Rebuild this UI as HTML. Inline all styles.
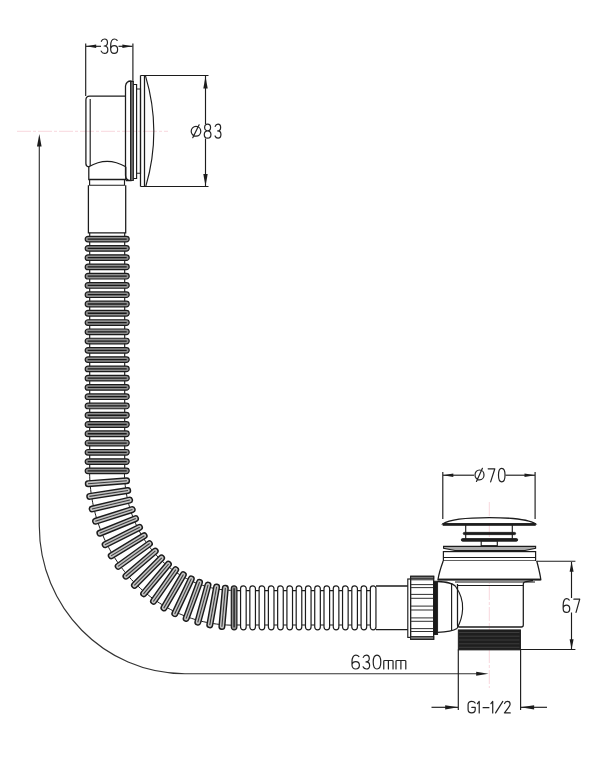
<!DOCTYPE html>
<html><head><meta charset="utf-8"><style>
html,body{margin:0;padding:0;background:#fff;width:602px;height:768px;overflow:hidden;font-family:"Liberation Sans",sans-serif;}
svg{display:block;}
</style></head><body>
<svg width="602" height="768" viewBox="0 0 602 768">
<rect width="602" height="768" fill="#fff"/>
<line x1="17.00" y1="131.30" x2="168.00" y2="131.30" stroke="#f7d3db" stroke-width="0.92" stroke-dasharray="14,2,3,2"/>
<line x1="489.30" y1="502.00" x2="489.30" y2="688.00" stroke="#f7d3db" stroke-width="0.92" stroke-dasharray="14,2,3,2"/>
<line x1="85.70" y1="43.50" x2="85.70" y2="96.00" stroke="#1c1c1c" stroke-width="1.15" />
<line x1="132.90" y1="43.50" x2="132.90" y2="82.00" stroke="#1c1c1c" stroke-width="1.15" />
<line x1="86.00" y1="46.30" x2="101.00" y2="46.30" stroke="#1c1c1c" stroke-width="1.15" />
<line x1="118.50" y1="46.30" x2="132.50" y2="46.30" stroke="#1c1c1c" stroke-width="1.15" />
<path d="M86.20,46.30 L96.20,44.50 L96.20,48.10 Z" fill="#1c1c1c" stroke="none"/>
<path d="M132.40,46.30 L122.40,48.10 L122.40,44.50 Z" fill="#1c1c1c" stroke="none"/>
<path transform="translate(101.00,39.00) scale(0.8750,1.0286)" d="M0.4,2.2 C1,0.7 2.3,0 4,0 C6.1,0 7.4,1.4 7.4,3.4 C7.4,5.5 6,6.8 3.6,6.8 C6.3,6.8 7.8,8.2 7.8,10.4 C7.8,12.7 6.2,14 4,14 C2.2,14 0.9,13.2 0.2,11.8" fill="none" stroke="#222" stroke-width="1.2" vector-effect="non-scaling-stroke" stroke-linecap="round" stroke-linejoin="round"/>
<path transform="translate(110.40,39.00) scale(0.9375,1.0286)" d="M7.2,1.4 C6.5,0.5 5.4,0 4.2,0 C1.8,0 0.3,2.3 0.3,6.5 V10 C0.3,12.5 1.8,14 4,14 C6.2,14 7.7,12.5 7.7,10.2 C7.7,7.9 6.2,6.5 4.1,6.5 C2.3,6.5 0.8,7.5 0.3,9.2" fill="none" stroke="#222" stroke-width="1.2" vector-effect="non-scaling-stroke" stroke-linecap="round" stroke-linejoin="round"/>
<line x1="140.50" y1="75.50" x2="208.50" y2="75.50" stroke="#1c1c1c" stroke-width="1.15" />
<line x1="140.50" y1="186.50" x2="208.50" y2="186.50" stroke="#1c1c1c" stroke-width="1.15" />
<line x1="205.50" y1="76.00" x2="205.50" y2="124.00" stroke="#1c1c1c" stroke-width="1.15" />
<line x1="205.50" y1="138.50" x2="205.50" y2="186.00" stroke="#1c1c1c" stroke-width="1.15" />
<path d="M205.50,76.30 L207.70,88.50 L203.30,88.50 Z" fill="#1c1c1c" stroke="none"/>
<path d="M205.50,186.20 L203.30,174.00 L207.70,174.00 Z" fill="#1c1c1c" stroke="none"/>
<path transform="translate(191.20,124.80) scale(1.2000,0.9571)" d="M4,1.75 C6.3,1.75 8,3.9 8,6.8 C8,9.7 6.3,11.85 4,11.85 C1.7,11.85 0,9.7 0,6.8 C0,3.9 1.7,1.75 4,1.75 Z M1.3,13.5 L6.6,0" fill="none" stroke="#222" stroke-width="1.2" vector-effect="non-scaling-stroke" stroke-linecap="round" stroke-linejoin="round"/>
<path transform="translate(204.10,124.10) scale(0.8750,1.0071)" d="M4,6.7 C1.9,6.7 0.6,5.4 0.6,3.4 C0.6,1.3 2,0 4,0 C6,0 7.4,1.3 7.4,3.4 C7.4,5.4 6.1,6.7 4,6.7 C1.6,6.7 0.2,8.1 0.2,10.3 C0.2,12.6 1.8,14 4,14 C6.2,14 7.8,12.6 7.8,10.3 C7.8,8.1 6.4,6.7 4,6.7 Z" fill="none" stroke="#222" stroke-width="1.2" vector-effect="non-scaling-stroke" stroke-linecap="round" stroke-linejoin="round"/>
<path transform="translate(214.90,124.10) scale(0.7750,1.0071)" d="M0.4,2.2 C1,0.7 2.3,0 4,0 C6.1,0 7.4,1.4 7.4,3.4 C7.4,5.5 6,6.8 3.6,6.8 C6.3,6.8 7.8,8.2 7.8,10.4 C7.8,12.7 6.2,14 4,14 C2.2,14 0.9,13.2 0.2,11.8" fill="none" stroke="#222" stroke-width="1.2" vector-effect="non-scaling-stroke" stroke-linecap="round" stroke-linejoin="round"/>
<path d="M125.8,96.1 H89.6 Q85.9,96.1 85.9,100 V163.5 Q85.9,166.6 88.8,166.8 Q107,155.8 125.8,166.8" stroke="#1c1c1c" stroke-width="1.265" fill="none" />
<line x1="90.20" y1="99.00" x2="90.20" y2="166.00" stroke="#1c1c1c" stroke-width="1.15" />
<path d="M88.8,166.8 V179.5 H125.8 V166.8" stroke="#1c1c1c" stroke-width="1.265" fill="none" />
<path d="M89.6,179.5 V185.2 H124.5 V179.5" stroke="#1c1c1c" stroke-width="1.15" fill="none" />
<path d="M88.4,185.2 V232.8 H125.7 V185.2" stroke="#1c1c1c" stroke-width="1.265" fill="none" />
<path d="M125.8,180.5 H131 V81 Q126.3,81 125.5,86 V175.5 Q125.8,180.5 131,180.5" stroke="#1c1c1c" stroke-width="1.265" fill="none" />
<rect x="130.60" y="81.50" width="2.80" height="99.00" rx="0" fill="#6a6a6a" stroke="#1c1c1c" stroke-width="0.92" />
<path d="M133.4,84.5 H136.6 V178.5 H133.4" stroke="#1c1c1c" stroke-width="1.15" fill="none" />
<path d="M136.6,89 H140.5 V173.2 H136.6" stroke="#1c1c1c" stroke-width="1.15" fill="none" />
<path d="M140.5,75.5 V186.5 M144.5,75.5 V186.5" stroke="#1c1c1c" stroke-width="1.265" fill="none" />
<path d="M145.5,75.8 Q162,131 145.8,186.3" stroke="#1c1c1c" stroke-width="1.15" fill="none" />
<line x1="89.70" y1="232.80" x2="89.70" y2="471.00" stroke="#1c1c1c" stroke-width="1.15" />
<line x1="124.70" y1="232.80" x2="124.70" y2="471.00" stroke="#1c1c1c" stroke-width="1.15" />
<polyline points="89.60,470.90 89.62,473.57 89.69,476.24 89.79,478.91 89.95,481.58 90.14,484.24 90.38,486.90 90.66,489.55 90.98,492.20 91.35,494.85 91.76,497.48 92.21,500.11 92.71,502.73 93.24,505.34 93.82,507.94 94.45,510.53 95.11,513.11 95.81,515.68 96.56,518.23 97.35,520.77 98.18,523.29 99.05,525.80 99.96,528.29 100.92,530.77 101.91,533.23 102.94,535.67 104.01,538.09 105.12,540.49 106.27,542.87 107.46,545.23 108.69,547.57 109.96,549.89 111.26,552.18 112.60,554.45 113.98,556.69 115.40,558.91 116.85,561.10 118.34,563.26 119.86,565.40 121.42,567.51 123.01,569.59 124.64,571.64 126.30,573.66 127.99,575.65 129.72,577.61 131.48,579.54 133.27,581.44 135.09,583.30 136.94,585.13 138.82,586.92 140.73,588.68 142.68,590.40 144.65,592.09 146.64,593.74 148.67,595.36 150.72,596.93 152.80,598.47 154.90,599.97 157.03,601.43 159.18,602.85 161.36,604.23 163.56,605.58 165.78,606.87 168.03,608.13 170.29,609.35 172.58,610.52 174.88,611.65 177.20,612.74 179.54,613.79 181.90,614.79 184.28,615.74 186.67,616.66 189.08,617.52 191.50,618.35 193.93,619.12 196.38,619.85 198.84,620.54 201.31,621.18 203.79,621.77 206.28,622.32 208.78,622.81 211.29,623.27 213.81,623.67 216.33,624.03 218.86,624.34 221.39,624.60 223.93,624.82 226.47,624.98 229.01,625.10 231.55,625.18 234.10,625.20" fill="none" stroke="#1c1c1c" stroke-width="1.0"/>
<polyline points="124.40,470.90 124.42,473.01 124.47,475.11 124.55,477.22 124.67,479.32 124.83,481.42 125.01,483.52 125.24,485.61 125.49,487.70 125.78,489.78 126.10,491.86 126.46,493.93 126.85,495.99 127.27,498.05 127.73,500.10 128.22,502.13 128.74,504.16 129.29,506.17 129.88,508.18 130.50,510.17 131.15,512.15 131.83,514.12 132.55,516.07 133.29,518.01 134.07,519.94 134.88,521.84 135.71,523.74 136.58,525.61 137.48,527.47 138.41,529.31 139.36,531.13 140.35,532.93 141.36,534.71 142.41,536.48 143.48,538.22 144.57,539.94 145.70,541.64 146.85,543.31 148.03,544.97 149.23,546.60 150.46,548.20 151.72,549.79 153.00,551.34 154.30,552.88 155.63,554.38 156.98,555.86 158.35,557.32 159.75,558.75 161.17,560.15 162.61,561.52 164.07,562.86 165.55,564.18 167.05,565.47 168.57,566.72 170.12,567.95 171.68,569.15 173.25,570.32 174.85,571.46 176.46,572.56 178.09,573.64 179.74,574.68 181.40,575.70 183.08,576.68 184.77,577.62 186.48,578.54 188.19,579.42 189.93,580.28 191.67,581.09 193.43,581.88 195.20,582.63 196.98,583.34 198.77,584.03 200.57,584.68 202.38,585.29 204.20,585.87 206.03,586.42 207.86,586.93 209.71,587.41 211.56,587.85 213.41,588.25 215.28,588.63 217.14,588.96 219.02,589.26 220.89,589.53 222.77,589.76 224.65,589.96 226.54,590.12 228.43,590.24 230.32,590.33 232.21,590.38 234.10,590.40" fill="none" stroke="#1c1c1c" stroke-width="1.0"/>
<line x1="234.00" y1="590.60" x2="375.00" y2="590.60" stroke="#1c1c1c" stroke-width="1.15" />
<line x1="234.00" y1="625.00" x2="375.00" y2="625.00" stroke="#1c1c1c" stroke-width="1.15" />
<g transform="translate(107.20,239.10) rotate(0.000)"><rect x="-22.00" y="-2.80" width="44.00" height="5.60" rx="2.80" fill="#8e8e8e" stroke="#1c1c1c" stroke-width="1.2"/><line x1="-19.50" y1="0" x2="19.50" y2="0" stroke="#1a1a1a" stroke-width="1.3"/></g>
<g transform="translate(107.20,248.37) rotate(0.000)"><rect x="-22.00" y="-2.80" width="44.00" height="5.60" rx="2.80" fill="#8e8e8e" stroke="#1c1c1c" stroke-width="1.2"/><line x1="-19.50" y1="0" x2="19.50" y2="0" stroke="#1a1a1a" stroke-width="1.3"/></g>
<g transform="translate(107.20,257.64) rotate(0.000)"><rect x="-22.00" y="-2.80" width="44.00" height="5.60" rx="2.80" fill="#8e8e8e" stroke="#1c1c1c" stroke-width="1.2"/><line x1="-19.50" y1="0" x2="19.50" y2="0" stroke="#1a1a1a" stroke-width="1.3"/></g>
<g transform="translate(107.20,266.91) rotate(0.000)"><rect x="-22.00" y="-2.80" width="44.00" height="5.60" rx="2.80" fill="#8e8e8e" stroke="#1c1c1c" stroke-width="1.2"/><line x1="-19.50" y1="0" x2="19.50" y2="0" stroke="#1a1a1a" stroke-width="1.3"/></g>
<g transform="translate(107.20,276.18) rotate(0.000)"><rect x="-22.00" y="-2.80" width="44.00" height="5.60" rx="2.80" fill="#8e8e8e" stroke="#1c1c1c" stroke-width="1.2"/><line x1="-19.50" y1="0" x2="19.50" y2="0" stroke="#1a1a1a" stroke-width="1.3"/></g>
<g transform="translate(107.20,285.45) rotate(0.000)"><rect x="-22.00" y="-2.80" width="44.00" height="5.60" rx="2.80" fill="#8e8e8e" stroke="#1c1c1c" stroke-width="1.2"/><line x1="-19.50" y1="0" x2="19.50" y2="0" stroke="#1a1a1a" stroke-width="1.3"/></g>
<g transform="translate(107.20,294.72) rotate(0.000)"><rect x="-22.00" y="-2.80" width="44.00" height="5.60" rx="2.80" fill="#8e8e8e" stroke="#1c1c1c" stroke-width="1.2"/><line x1="-19.50" y1="0" x2="19.50" y2="0" stroke="#1a1a1a" stroke-width="1.3"/></g>
<g transform="translate(107.20,303.99) rotate(0.000)"><rect x="-22.00" y="-2.80" width="44.00" height="5.60" rx="2.80" fill="#8e8e8e" stroke="#1c1c1c" stroke-width="1.2"/><line x1="-19.50" y1="0" x2="19.50" y2="0" stroke="#1a1a1a" stroke-width="1.3"/></g>
<g transform="translate(107.20,313.26) rotate(0.000)"><rect x="-22.00" y="-2.80" width="44.00" height="5.60" rx="2.80" fill="#8e8e8e" stroke="#1c1c1c" stroke-width="1.2"/><line x1="-19.50" y1="0" x2="19.50" y2="0" stroke="#1a1a1a" stroke-width="1.3"/></g>
<g transform="translate(107.20,322.53) rotate(0.000)"><rect x="-22.00" y="-2.80" width="44.00" height="5.60" rx="2.80" fill="#8e8e8e" stroke="#1c1c1c" stroke-width="1.2"/><line x1="-19.50" y1="0" x2="19.50" y2="0" stroke="#1a1a1a" stroke-width="1.3"/></g>
<g transform="translate(107.20,331.80) rotate(0.000)"><rect x="-22.00" y="-2.80" width="44.00" height="5.60" rx="2.80" fill="#8e8e8e" stroke="#1c1c1c" stroke-width="1.2"/><line x1="-19.50" y1="0" x2="19.50" y2="0" stroke="#1a1a1a" stroke-width="1.3"/></g>
<g transform="translate(107.20,341.07) rotate(0.000)"><rect x="-22.00" y="-2.80" width="44.00" height="5.60" rx="2.80" fill="#8e8e8e" stroke="#1c1c1c" stroke-width="1.2"/><line x1="-19.50" y1="0" x2="19.50" y2="0" stroke="#1a1a1a" stroke-width="1.3"/></g>
<g transform="translate(107.20,350.34) rotate(0.000)"><rect x="-22.00" y="-2.80" width="44.00" height="5.60" rx="2.80" fill="#8e8e8e" stroke="#1c1c1c" stroke-width="1.2"/><line x1="-19.50" y1="0" x2="19.50" y2="0" stroke="#1a1a1a" stroke-width="1.3"/></g>
<g transform="translate(107.20,359.61) rotate(0.000)"><rect x="-22.00" y="-2.80" width="44.00" height="5.60" rx="2.80" fill="#8e8e8e" stroke="#1c1c1c" stroke-width="1.2"/><line x1="-19.50" y1="0" x2="19.50" y2="0" stroke="#1a1a1a" stroke-width="1.3"/></g>
<g transform="translate(107.20,368.88) rotate(0.000)"><rect x="-22.00" y="-2.80" width="44.00" height="5.60" rx="2.80" fill="#8e8e8e" stroke="#1c1c1c" stroke-width="1.2"/><line x1="-19.50" y1="0" x2="19.50" y2="0" stroke="#1a1a1a" stroke-width="1.3"/></g>
<g transform="translate(107.20,378.15) rotate(0.000)"><rect x="-22.00" y="-2.80" width="44.00" height="5.60" rx="2.80" fill="#8e8e8e" stroke="#1c1c1c" stroke-width="1.2"/><line x1="-19.50" y1="0" x2="19.50" y2="0" stroke="#1a1a1a" stroke-width="1.3"/></g>
<g transform="translate(107.20,387.42) rotate(0.000)"><rect x="-22.00" y="-2.80" width="44.00" height="5.60" rx="2.80" fill="#8e8e8e" stroke="#1c1c1c" stroke-width="1.2"/><line x1="-19.50" y1="0" x2="19.50" y2="0" stroke="#1a1a1a" stroke-width="1.3"/></g>
<g transform="translate(107.20,396.69) rotate(0.000)"><rect x="-22.00" y="-2.80" width="44.00" height="5.60" rx="2.80" fill="#8e8e8e" stroke="#1c1c1c" stroke-width="1.2"/><line x1="-19.50" y1="0" x2="19.50" y2="0" stroke="#1a1a1a" stroke-width="1.3"/></g>
<g transform="translate(107.20,405.96) rotate(0.000)"><rect x="-22.00" y="-2.80" width="44.00" height="5.60" rx="2.80" fill="#8e8e8e" stroke="#1c1c1c" stroke-width="1.2"/><line x1="-19.50" y1="0" x2="19.50" y2="0" stroke="#1a1a1a" stroke-width="1.3"/></g>
<g transform="translate(107.20,415.23) rotate(0.000)"><rect x="-22.00" y="-2.80" width="44.00" height="5.60" rx="2.80" fill="#8e8e8e" stroke="#1c1c1c" stroke-width="1.2"/><line x1="-19.50" y1="0" x2="19.50" y2="0" stroke="#1a1a1a" stroke-width="1.3"/></g>
<g transform="translate(107.20,424.50) rotate(0.000)"><rect x="-22.00" y="-2.80" width="44.00" height="5.60" rx="2.80" fill="#8e8e8e" stroke="#1c1c1c" stroke-width="1.2"/><line x1="-19.50" y1="0" x2="19.50" y2="0" stroke="#1a1a1a" stroke-width="1.3"/></g>
<g transform="translate(107.20,433.77) rotate(0.000)"><rect x="-22.00" y="-2.80" width="44.00" height="5.60" rx="2.80" fill="#8e8e8e" stroke="#1c1c1c" stroke-width="1.2"/><line x1="-19.50" y1="0" x2="19.50" y2="0" stroke="#1a1a1a" stroke-width="1.3"/></g>
<g transform="translate(107.20,443.04) rotate(0.000)"><rect x="-22.00" y="-2.80" width="44.00" height="5.60" rx="2.80" fill="#8e8e8e" stroke="#1c1c1c" stroke-width="1.2"/><line x1="-19.50" y1="0" x2="19.50" y2="0" stroke="#1a1a1a" stroke-width="1.3"/></g>
<g transform="translate(107.20,452.31) rotate(0.000)"><rect x="-22.00" y="-2.80" width="44.00" height="5.60" rx="2.80" fill="#8e8e8e" stroke="#1c1c1c" stroke-width="1.2"/><line x1="-19.50" y1="0" x2="19.50" y2="0" stroke="#1a1a1a" stroke-width="1.3"/></g>
<g transform="translate(107.20,461.58) rotate(0.000)"><rect x="-22.00" y="-2.80" width="44.00" height="5.60" rx="2.80" fill="#8e8e8e" stroke="#1c1c1c" stroke-width="1.2"/><line x1="-19.50" y1="0" x2="19.50" y2="0" stroke="#1a1a1a" stroke-width="1.3"/></g>
<g transform="translate(107.20,470.85) rotate(0.000)"><rect x="-22.00" y="-2.80" width="44.00" height="5.60" rx="2.80" fill="#8e8e8e" stroke="#1c1c1c" stroke-width="1.2"/><line x1="-19.50" y1="0" x2="19.50" y2="0" stroke="#1a1a1a" stroke-width="1.3"/></g>
<g transform="translate(107.43,482.21) rotate(-4.399)"><rect x="-22.00" y="-2.80" width="44.00" height="5.60" rx="2.80" fill="#c4c4c4" stroke="#1c1c1c" stroke-width="1.45"/><line x1="-19.50" y1="0" x2="19.50" y2="0" stroke="#3a3a3a" stroke-width="1.1"/></g>
<g transform="translate(108.73,493.43) rotate(-8.807)"><rect x="-22.00" y="-2.80" width="44.00" height="5.60" rx="2.80" fill="#c4c4c4" stroke="#1c1c1c" stroke-width="1.45"/><line x1="-19.50" y1="0" x2="19.50" y2="0" stroke="#3a3a3a" stroke-width="1.1"/></g>
<g transform="translate(110.89,504.51) rotate(-13.230)"><rect x="-22.00" y="-2.80" width="44.00" height="5.60" rx="2.80" fill="#c4c4c4" stroke="#1c1c1c" stroke-width="1.45"/><line x1="-19.50" y1="0" x2="19.50" y2="0" stroke="#3a3a3a" stroke-width="1.1"/></g>
<g transform="translate(113.89,515.35) rotate(-17.678)"><rect x="-22.00" y="-2.80" width="44.00" height="5.60" rx="2.80" fill="#c4c4c4" stroke="#1c1c1c" stroke-width="1.45"/><line x1="-19.50" y1="0" x2="19.50" y2="0" stroke="#3a3a3a" stroke-width="1.1"/></g>
<g transform="translate(117.71,525.89) rotate(-22.158)"><rect x="-22.00" y="-2.80" width="44.00" height="5.60" rx="2.80" fill="#c4c4c4" stroke="#1c1c1c" stroke-width="1.45"/><line x1="-19.50" y1="0" x2="19.50" y2="0" stroke="#3a3a3a" stroke-width="1.1"/></g>
<g transform="translate(122.32,536.06) rotate(-26.676)"><rect x="-22.00" y="-2.80" width="44.00" height="5.60" rx="2.80" fill="#c4c4c4" stroke="#1c1c1c" stroke-width="1.45"/><line x1="-19.50" y1="0" x2="19.50" y2="0" stroke="#3a3a3a" stroke-width="1.1"/></g>
<g transform="translate(127.70,545.78) rotate(-31.239)"><rect x="-22.00" y="-2.80" width="44.00" height="5.60" rx="2.80" fill="#c4c4c4" stroke="#1c1c1c" stroke-width="1.45"/><line x1="-19.50" y1="0" x2="19.50" y2="0" stroke="#3a3a3a" stroke-width="1.1"/></g>
<g transform="translate(133.80,554.99) rotate(-35.852)"><rect x="-22.00" y="-2.80" width="44.00" height="5.60" rx="2.80" fill="#c4c4c4" stroke="#1c1c1c" stroke-width="1.45"/><line x1="-19.50" y1="0" x2="19.50" y2="0" stroke="#3a3a3a" stroke-width="1.1"/></g>
<g transform="translate(140.59,563.62) rotate(-40.519)"><rect x="-22.00" y="-2.80" width="44.00" height="5.60" rx="2.80" fill="#c4c4c4" stroke="#1c1c1c" stroke-width="1.45"/><line x1="-19.50" y1="0" x2="19.50" y2="0" stroke="#3a3a3a" stroke-width="1.1"/></g>
<g transform="translate(148.02,571.62) rotate(-45.243)"><rect x="-22.00" y="-2.80" width="44.00" height="5.60" rx="2.80" fill="#c4c4c4" stroke="#1c1c1c" stroke-width="1.45"/><line x1="-19.50" y1="0" x2="19.50" y2="0" stroke="#3a3a3a" stroke-width="1.1"/></g>
<g transform="translate(156.03,578.93) rotate(-50.025)"><rect x="-22.00" y="-2.80" width="44.00" height="5.60" rx="2.80" fill="#c4c4c4" stroke="#1c1c1c" stroke-width="1.45"/><line x1="-19.50" y1="0" x2="19.50" y2="0" stroke="#3a3a3a" stroke-width="1.1"/></g>
<g transform="translate(164.58,585.51) rotate(-54.866)"><rect x="-22.00" y="-2.80" width="44.00" height="5.60" rx="2.80" fill="#c4c4c4" stroke="#1c1c1c" stroke-width="1.45"/><line x1="-19.50" y1="0" x2="19.50" y2="0" stroke="#3a3a3a" stroke-width="1.1"/></g>
<g transform="translate(173.61,591.30) rotate(-59.762)"><rect x="-22.00" y="-2.80" width="44.00" height="5.60" rx="2.80" fill="#c4c4c4" stroke="#1c1c1c" stroke-width="1.45"/><line x1="-19.50" y1="0" x2="19.50" y2="0" stroke="#3a3a3a" stroke-width="1.1"/></g>
<g transform="translate(183.04,596.27) rotate(-64.711)"><rect x="-22.00" y="-2.80" width="44.00" height="5.60" rx="2.80" fill="#c4c4c4" stroke="#1c1c1c" stroke-width="1.45"/><line x1="-19.50" y1="0" x2="19.50" y2="0" stroke="#3a3a3a" stroke-width="1.1"/></g>
<g transform="translate(192.83,600.38) rotate(-69.707)"><rect x="-22.00" y="-2.80" width="44.00" height="5.60" rx="2.80" fill="#c4c4c4" stroke="#1c1c1c" stroke-width="1.45"/><line x1="-19.50" y1="0" x2="19.50" y2="0" stroke="#3a3a3a" stroke-width="1.1"/></g>
<g transform="translate(202.90,603.61) rotate(-74.743)"><rect x="-22.00" y="-2.80" width="44.00" height="5.60" rx="2.80" fill="#c4c4c4" stroke="#1c1c1c" stroke-width="1.45"/><line x1="-19.50" y1="0" x2="19.50" y2="0" stroke="#3a3a3a" stroke-width="1.1"/></g>
<g transform="translate(213.18,605.93) rotate(-79.811)"><rect x="-22.00" y="-2.80" width="44.00" height="5.60" rx="2.80" fill="#c4c4c4" stroke="#1c1c1c" stroke-width="1.45"/><line x1="-19.50" y1="0" x2="19.50" y2="0" stroke="#3a3a3a" stroke-width="1.1"/></g>
<g transform="translate(223.60,607.33) rotate(-84.900)"><rect x="-22.00" y="-2.80" width="44.00" height="5.60" rx="2.80" fill="#c4c4c4" stroke="#1c1c1c" stroke-width="1.45"/><line x1="-19.50" y1="0" x2="19.50" y2="0" stroke="#3a3a3a" stroke-width="1.1"/></g>
<g transform="translate(234.10,607.80) rotate(90.000)"><rect x="-22.00" y="-2.80" width="44.00" height="5.60" rx="2.80" fill="#8e8e8e" stroke="#1c1c1c" stroke-width="1.2"/><line x1="-19.50" y1="0" x2="19.50" y2="0" stroke="#1a1a1a" stroke-width="1.3"/></g>
<g transform="translate(243.37,607.80) rotate(90.000)"><rect x="-22.00" y="-2.80" width="44.00" height="5.60" rx="2.80" fill="#ffffff" stroke="#1c1c1c" stroke-width="1.2"/></g>
<g transform="translate(252.64,607.80) rotate(90.000)"><rect x="-22.00" y="-2.80" width="44.00" height="5.60" rx="2.80" fill="#ffffff" stroke="#1c1c1c" stroke-width="1.2"/></g>
<g transform="translate(261.91,607.80) rotate(90.000)"><rect x="-22.00" y="-2.80" width="44.00" height="5.60" rx="2.80" fill="#ffffff" stroke="#1c1c1c" stroke-width="1.2"/></g>
<g transform="translate(271.18,607.80) rotate(90.000)"><rect x="-22.00" y="-2.80" width="44.00" height="5.60" rx="2.80" fill="#ffffff" stroke="#1c1c1c" stroke-width="1.2"/></g>
<g transform="translate(280.45,607.80) rotate(90.000)"><rect x="-22.00" y="-2.80" width="44.00" height="5.60" rx="2.80" fill="#ffffff" stroke="#1c1c1c" stroke-width="1.2"/></g>
<g transform="translate(289.72,607.80) rotate(90.000)"><rect x="-22.00" y="-2.80" width="44.00" height="5.60" rx="2.80" fill="#ffffff" stroke="#1c1c1c" stroke-width="1.2"/></g>
<g transform="translate(298.99,607.80) rotate(90.000)"><rect x="-22.00" y="-2.80" width="44.00" height="5.60" rx="2.80" fill="#ffffff" stroke="#1c1c1c" stroke-width="1.2"/></g>
<g transform="translate(308.26,607.80) rotate(90.000)"><rect x="-22.00" y="-2.80" width="44.00" height="5.60" rx="2.80" fill="#ffffff" stroke="#1c1c1c" stroke-width="1.2"/></g>
<g transform="translate(317.53,607.80) rotate(90.000)"><rect x="-22.00" y="-2.80" width="44.00" height="5.60" rx="2.80" fill="#ffffff" stroke="#1c1c1c" stroke-width="1.2"/></g>
<g transform="translate(326.80,607.80) rotate(90.000)"><rect x="-22.00" y="-2.80" width="44.00" height="5.60" rx="2.80" fill="#ffffff" stroke="#1c1c1c" stroke-width="1.2"/></g>
<g transform="translate(336.07,607.80) rotate(90.000)"><rect x="-22.00" y="-2.80" width="44.00" height="5.60" rx="2.80" fill="#ffffff" stroke="#1c1c1c" stroke-width="1.2"/></g>
<g transform="translate(345.34,607.80) rotate(90.000)"><rect x="-22.00" y="-2.80" width="44.00" height="5.60" rx="2.80" fill="#ffffff" stroke="#1c1c1c" stroke-width="1.2"/></g>
<g transform="translate(354.61,607.80) rotate(90.000)"><rect x="-22.00" y="-2.80" width="44.00" height="5.60" rx="2.80" fill="#ffffff" stroke="#1c1c1c" stroke-width="1.2"/></g>
<g transform="translate(363.88,607.80) rotate(90.000)"><rect x="-22.00" y="-2.80" width="44.00" height="5.60" rx="2.80" fill="#ffffff" stroke="#1c1c1c" stroke-width="1.2"/></g>
<g transform="translate(373.15,607.80) rotate(90.000)"><rect x="-22.00" y="-2.80" width="44.00" height="5.60" rx="2.80" fill="#ffffff" stroke="#1c1c1c" stroke-width="1.2"/></g>
<path d="M376,586 H408.2 M376,629.7 H408.2" stroke="#1c1c1c" stroke-width="1.265" fill="none" />
<path d="M39.3,146 V526 C39.3,607 104,673.7 185,673.7 H478" stroke="#333" stroke-width="1.15" fill="none" />
<path d="M39.30,134.00 L41.60,146.50 L37.00,146.50 Z" fill="#1c1c1c" stroke="none"/>
<path d="M488.50,673.70 L476.20,675.70 L476.20,671.70 Z" fill="#1c1c1c" stroke="none"/>
<path transform="translate(351.70,655.20) scale(1.0000,0.9857)" d="M7.2,1.4 C6.5,0.5 5.4,0 4.2,0 C1.8,0 0.3,2.3 0.3,6.5 V10 C0.3,12.5 1.8,14 4,14 C6.2,14 7.7,12.5 7.7,10.2 C7.7,7.9 6.2,6.5 4.1,6.5 C2.3,6.5 0.8,7.5 0.3,9.2" fill="none" stroke="#222" stroke-width="1.2" vector-effect="non-scaling-stroke" stroke-linecap="round" stroke-linejoin="round"/>
<path transform="translate(362.90,655.20) scale(0.8625,0.9857)" d="M0.4,2.2 C1,0.7 2.3,0 4,0 C6.1,0 7.4,1.4 7.4,3.4 C7.4,5.5 6,6.8 3.6,6.8 C6.3,6.8 7.8,8.2 7.8,10.4 C7.8,12.7 6.2,14 4,14 C2.2,14 0.9,13.2 0.2,11.8" fill="none" stroke="#222" stroke-width="1.2" vector-effect="non-scaling-stroke" stroke-linecap="round" stroke-linejoin="round"/>
<path transform="translate(373.00,655.20) scale(1.0000,0.9857)" d="M4,0 C6.5,0 7.8,2.6 7.8,7 C7.8,11.4 6.5,14 4,14 C1.5,14 0.2,11.4 0.2,7 C0.2,2.6 1.5,0 4,0 Z" fill="none" stroke="#222" stroke-width="1.2" vector-effect="non-scaling-stroke" stroke-linecap="round" stroke-linejoin="round"/>
<path transform="translate(383.10,660.50) scale(1.3250,0.6071)" d="M0.5,14 V0.8 C0.5,0.4 0.8,0 1.3,0 H6.7 C7.2,0 7.5,0.4 7.5,0.8 V14 M4,0 V14" fill="none" stroke="#222" stroke-width="1.2" vector-effect="non-scaling-stroke" stroke-linecap="round" stroke-linejoin="round"/>
<path transform="translate(395.30,660.50) scale(1.4000,0.6071)" d="M0.5,14 V0.8 C0.5,0.4 0.8,0 1.3,0 H6.7 C7.2,0 7.5,0.4 7.5,0.8 V14 M4,0 V14" fill="none" stroke="#222" stroke-width="1.2" vector-effect="non-scaling-stroke" stroke-linecap="round" stroke-linejoin="round"/>
<rect x="407.80" y="579.00" width="2.90" height="58.40" rx="0" fill="#ffffff" stroke="#1c1c1c" stroke-width="1.15" />
<rect x="410.70" y="576.30" width="23.00" height="63.00" rx="0" fill="#ffffff" stroke="#1c1c1c" stroke-width="1.265" />
<rect x="410.70" y="576.30" width="23.00" height="2.50" rx="0" fill="#777" stroke="#1c1c1c" stroke-width="0.92" />
<rect x="410.70" y="636.60" width="23.00" height="2.70" rx="0" fill="#777" stroke="#1c1c1c" stroke-width="0.92" />
<line x1="411.00" y1="579.80" x2="433.50" y2="579.80" stroke="#333" stroke-width="1.035" />
<line x1="411.00" y1="584.60" x2="433.50" y2="584.60" stroke="#333" stroke-width="1.035" />
<line x1="411.00" y1="587.60" x2="433.50" y2="587.60" stroke="#333" stroke-width="1.035" />
<line x1="411.00" y1="594.40" x2="433.50" y2="594.40" stroke="#333" stroke-width="1.035" />
<line x1="411.00" y1="598.30" x2="433.50" y2="598.30" stroke="#333" stroke-width="1.035" />
<line x1="411.00" y1="606.10" x2="433.50" y2="606.10" stroke="#333" stroke-width="1.035" />
<line x1="411.00" y1="610.00" x2="433.50" y2="610.00" stroke="#333" stroke-width="1.035" />
<line x1="411.00" y1="617.90" x2="433.50" y2="617.90" stroke="#333" stroke-width="1.035" />
<line x1="411.00" y1="621.30" x2="433.50" y2="621.30" stroke="#333" stroke-width="1.035" />
<line x1="411.00" y1="628.60" x2="433.50" y2="628.60" stroke="#333" stroke-width="1.035" />
<line x1="411.00" y1="631.50" x2="433.50" y2="631.50" stroke="#333" stroke-width="1.035" />
<rect x="433.70" y="581.20" width="3.90" height="53.30" rx="0" fill="#1a1a1a" stroke="#1c1c1c" stroke-width="0.92" />
<path d="M437.6,581.5 C446,582 452,582.5 455.3,586 M437.6,632.3 C447,632 453,631 457,628.5" stroke="#1c1c1c" stroke-width="1.265" fill="none" />
<line x1="451.60" y1="583.00" x2="451.60" y2="631.00" stroke="#1c1c1c" stroke-width="1.15" />
<path d="M455.3,586 C461,594 463,603 462.6,609 C462.3,617 460,623 457,628.5" stroke="#1c1c1c" stroke-width="1.15" fill="none" />
<line x1="442.80" y1="471.90" x2="442.80" y2="519.00" stroke="#1c1c1c" stroke-width="1.15" />
<line x1="535.10" y1="471.90" x2="535.10" y2="519.00" stroke="#1c1c1c" stroke-width="1.15" />
<line x1="443.00" y1="475.20" x2="474.00" y2="475.20" stroke="#1c1c1c" stroke-width="1.15" />
<line x1="505.50" y1="475.20" x2="535.00" y2="475.20" stroke="#1c1c1c" stroke-width="1.15" />
<path d="M443.00,475.20 L453.30,473.40 L453.30,477.00 Z" fill="#1c1c1c" stroke="none"/>
<path d="M535.00,475.20 L524.50,477.00 L524.50,473.40 Z" fill="#1c1c1c" stroke="none"/>
<path transform="translate(475.00,468.30) scale(1.1250,0.9714)" d="M4,1.75 C6.3,1.75 8,3.9 8,6.8 C8,9.7 6.3,11.85 4,11.85 C1.7,11.85 0,9.7 0,6.8 C0,3.9 1.7,1.75 4,1.75 Z M1.3,13.5 L6.6,0" fill="none" stroke="#222" stroke-width="1.2" vector-effect="non-scaling-stroke" stroke-linecap="round" stroke-linejoin="round"/>
<path transform="translate(488.00,468.30) scale(0.8750,0.9714)" d="M0.2,0.5 H7.8 L3,14" fill="none" stroke="#222" stroke-width="1.2" vector-effect="non-scaling-stroke" stroke-linecap="round" stroke-linejoin="round"/>
<path transform="translate(498.30,468.30) scale(0.8625,0.9714)" d="M4,0 C6.5,0 7.8,2.6 7.8,7 C7.8,11.4 6.5,14 4,14 C1.5,14 0.2,11.4 0.2,7 C0.2,2.6 1.5,0 4,0 Z" fill="none" stroke="#222" stroke-width="1.2" vector-effect="non-scaling-stroke" stroke-linecap="round" stroke-linejoin="round"/>
<path d="M443,523.8 C455,515.5 524,515.5 535.5,523.8 Z" stroke="#1c1c1c" stroke-width="1.208" fill="#ffffff" />
<rect x="443.00" y="523.60" width="92.50" height="1.80" rx="0" fill="#1c1c1c" stroke="#1c1c1c" stroke-width="0.69" />
<line x1="465.70" y1="525.00" x2="465.70" y2="540.00" stroke="#1c1c1c" stroke-width="1.15" />
<line x1="512.30" y1="525.00" x2="512.30" y2="540.00" stroke="#1c1c1c" stroke-width="1.15" />
<rect x="463.30" y="532.40" width="52.30" height="2.20" rx="1" fill="#1c1c1c" stroke="#1c1c1c" stroke-width="0.92" />
<rect x="461.30" y="538.60" width="56.40" height="2.60" rx="1.3" fill="#1c1c1c" stroke="#1c1c1c" stroke-width="0.92" />
<rect x="481.20" y="541.20" width="16.10" height="4.50" rx="0" fill="#fff" stroke="#1c1c1c" stroke-width="1.15" />
<path d="M443.6,546.4 H535.6 V548.2 L525,550.5 H455 L443.6,548.2 Z" stroke="#1c1c1c" stroke-width="1.15" fill="#aaa" />
<rect x="443.40" y="551.60" width="92.20" height="9.30" rx="0" fill="#fff" stroke="#1c1c1c" stroke-width="1.208" />
<line x1="443.40" y1="557.50" x2="535.60" y2="557.50" stroke="#1c1c1c" stroke-width="1.15" />
<path d="M443.2,561 C441,567 439,573 438,579.5 H540.8 C540,573 538,566 536.8,561" stroke="#1c1c1c" stroke-width="1.265" fill="#fff" />
<line x1="438.00" y1="579.60" x2="540.80" y2="579.60" stroke="#1c1c1c" stroke-width="1.84" />
<rect x="455.00" y="580.60" width="80.00" height="2.40" rx="0" fill="#888" stroke="none" stroke-width="0.0" />
<path d="M457.5,585.5 H523.2" stroke="#1c1c1c" stroke-width="1.15" fill="none" />
<path d="M457.5,584 V625 Q457.5,627 459.5,627 H521.3 Q523.3,627 523.3,625 V584 Q523.3,582 526,581.5 L533,580.5" stroke="#1c1c1c" stroke-width="1.265" fill="none" />
<rect x="458.30" y="629.90" width="62.20" height="20.00" rx="0" fill="#1e1e1e" stroke="#1c1c1c" stroke-width="0.92" />
<line x1="459.00" y1="632.50" x2="519.50" y2="632.50" stroke="#444" stroke-width="0.805" />
<line x1="459.00" y1="636.20" x2="519.50" y2="636.20" stroke="#444" stroke-width="0.805" />
<line x1="459.00" y1="640.00" x2="519.50" y2="640.00" stroke="#444" stroke-width="0.805" />
<line x1="459.00" y1="643.80" x2="519.50" y2="643.80" stroke="#444" stroke-width="0.805" />
<line x1="459.00" y1="647.30" x2="519.50" y2="647.30" stroke="#444" stroke-width="0.805" />
<line x1="458.30" y1="649.40" x2="458.30" y2="710.00" stroke="#1c1c1c" stroke-width="1.15" />
<line x1="520.60" y1="649.40" x2="520.60" y2="710.00" stroke="#1c1c1c" stroke-width="1.15" />
<line x1="536.50" y1="561.20" x2="575.40" y2="561.20" stroke="#1c1c1c" stroke-width="1.15" />
<line x1="521.00" y1="649.50" x2="575.40" y2="649.50" stroke="#1c1c1c" stroke-width="1.15" />
<line x1="571.50" y1="562.00" x2="571.50" y2="598.00" stroke="#1c1c1c" stroke-width="1.15" />
<line x1="571.50" y1="612.50" x2="571.50" y2="649.00" stroke="#1c1c1c" stroke-width="1.15" />
<path d="M571.60,561.80 L573.60,571.80 L569.60,571.80 Z" fill="#1c1c1c" stroke="none"/>
<path d="M571.60,649.20 L569.60,639.20 L573.60,639.20 Z" fill="#1c1c1c" stroke="none"/>
<path transform="translate(562.90,598.70) scale(0.8875,0.9786)" d="M7.2,1.4 C6.5,0.5 5.4,0 4.2,0 C1.8,0 0.3,2.3 0.3,6.5 V10 C0.3,12.5 1.8,14 4,14 C6.2,14 7.7,12.5 7.7,10.2 C7.7,7.9 6.2,6.5 4.1,6.5 C2.3,6.5 0.8,7.5 0.3,9.2" fill="none" stroke="#222" stroke-width="1.2" vector-effect="non-scaling-stroke" stroke-linecap="round" stroke-linejoin="round"/>
<path transform="translate(573.70,598.70) scale(0.7750,0.9786)" d="M0.2,0.5 H7.8 L3,14" fill="none" stroke="#222" stroke-width="1.2" vector-effect="non-scaling-stroke" stroke-linecap="round" stroke-linejoin="round"/>
<line x1="431.50" y1="707.30" x2="458.00" y2="707.30" stroke="#1c1c1c" stroke-width="1.15" />
<line x1="520.60" y1="707.30" x2="547.00" y2="707.30" stroke="#1c1c1c" stroke-width="1.15" />
<path d="M458.00,707.30 L445.20,709.40 L445.20,705.20 Z" fill="#1c1c1c" stroke="none"/>
<path d="M520.60,707.30 L534.10,705.20 L534.10,709.40 Z" fill="#1c1c1c" stroke="none"/>
<path transform="translate(467.80,701.40) scale(0.9625,0.8214)" d="M7.6,2 C7,0.7 5.7,0 4,0 C1.8,0 0.3,1.6 0.3,4 V10 C0.3,12.4 1.8,14 4,14 C6.2,14 7.7,12.6 7.7,10.3 V7.3 H4.2" fill="none" stroke="#222" stroke-width="1.2" vector-effect="non-scaling-stroke" stroke-linecap="round" stroke-linejoin="round"/>
<path transform="translate(477.20,701.40) scale(0.4500,0.8214)" d="M0.5,2.8 L4.5,0 V14" fill="none" stroke="#222" stroke-width="1.2" vector-effect="non-scaling-stroke" stroke-linecap="round" stroke-linejoin="round"/>
<path transform="translate(483.10,701.40) scale(0.7250,0.8214)" d="M0,7.6 H8" fill="none" stroke="#222" stroke-width="1.2" vector-effect="non-scaling-stroke" stroke-linecap="round" stroke-linejoin="round"/>
<path transform="translate(490.70,701.40) scale(0.4500,0.8214)" d="M0.5,2.8 L4.5,0 V14" fill="none" stroke="#222" stroke-width="1.2" vector-effect="non-scaling-stroke" stroke-linecap="round" stroke-linejoin="round"/>
<path transform="translate(495.60,701.40) scale(0.9000,0.8214)" d="M0,14 L8,0" fill="none" stroke="#222" stroke-width="1.2" vector-effect="non-scaling-stroke" stroke-linecap="round" stroke-linejoin="round"/>
<path transform="translate(504.20,701.40) scale(0.7750,0.8214)" d="M0.4,2.6 C0.9,0.9 2.3,0 4,0 C6.2,0 7.6,1.4 7.6,3.6 C7.6,5.6 6.2,7.3 0.3,14 H7.8" fill="none" stroke="#222" stroke-width="1.2" vector-effect="non-scaling-stroke" stroke-linecap="round" stroke-linejoin="round"/>
</svg>
</body></html>
